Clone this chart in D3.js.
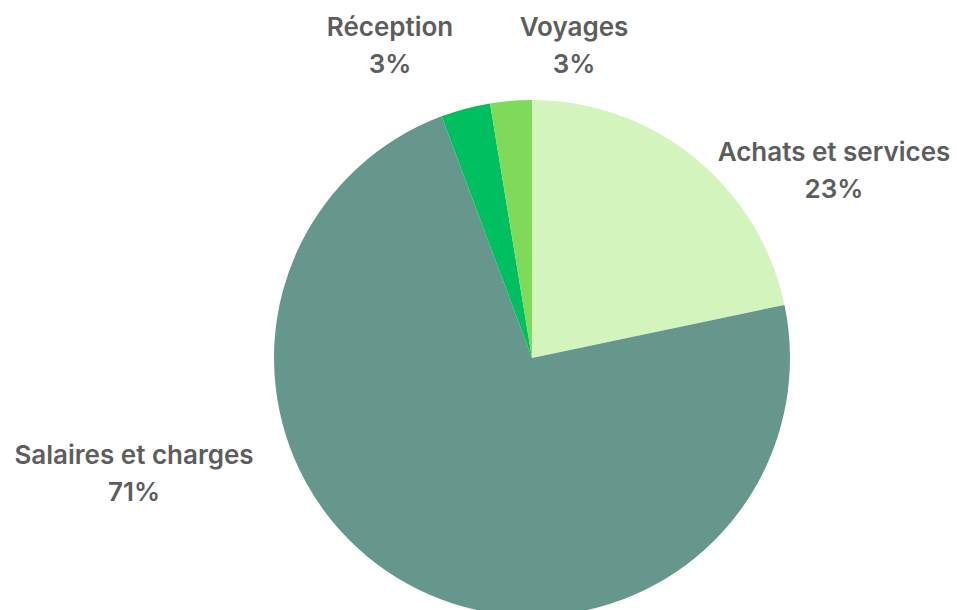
<!DOCTYPE html>
<html>
<head>
<meta charset="utf-8">
<script src="https://cdn.jsdelivr.net/npm/d3@7"></script>
<style>
  html, body { margin: 0; padding: 0; background: #fff; }
  svg { display: block; }
  .label { font-family: Inter, "Noto Sans", sans-serif; font-weight: 600; fill: #5d5d5d; }
</style>
</head>
<body>
<svg id="chart" width="957" height="610"></svg>
<script>
// categories, clockwise from 12 o'clock
const categories = ['Achats et services', 'Salaires et charges', 'Réception', 'Voyages'];
// slice shares (per cent)
const shares = [21.7, 72.6, 3.1, 2.6];
// percentage texts as printed on the chart
const percentLabels = ['23%', '71%', '3%', '3%'];

const colors = ['#d3f5bd', '#65978c', '#00bf60', '#7fd95a'];

const width = 957;
const height = 610;
const cx = 532;
const cy = 358;
const radius = 258;

// label anchors, offsets from the pie centre
const labelOffsets = [
  { dx: 302, dy: -188 },
  { dx: -398, dy: 115 },
  { dx: -142, dy: -313 },
  { dx: 42, dy: -313 }
];
const fontSize = 26;
const lineGap = 37;

const svg = d3.select('#chart');

const g = svg.append('g')
  .attr('transform', `translate(${cx},${cy})`);

const pie = d3.pie()
  .sort(null)
  .value(function (d) { return d; });

const arc = d3.arc()
  .innerRadius(0)
  .outerRadius(radius);

g.selectAll('path.slice')
  .data(pie(shares))
  .enter().append('path')
  .attr('class', 'slice')
  .attr('d', arc)
  .attr('fill', function (d, i) { return colors[i]; });

const labels = g.selectAll('text.label')
  .data(categories)
  .enter().append('text')
  .attr('class', 'label')
  .attr('text-anchor', 'middle')
  .attr('font-size', fontSize)
  .attr('x', function (d, i) { return labelOffsets[i].dx; })
  .attr('y', function (d, i) { return labelOffsets[i].dy; });

labels.append('tspan')
  .attr('x', function (d, i) { return labelOffsets[i].dx; })
  .attr('dy', -lineGap / 2 + fontSize * 0.35)
  .text(function (d) { return d; });

labels.append('tspan')
  .attr('x', function (d, i) { return labelOffsets[i].dx; })
  .attr('dy', lineGap)
  .text(function (d, i) { return percentLabels[i]; });
</script>
</body>
</html>
